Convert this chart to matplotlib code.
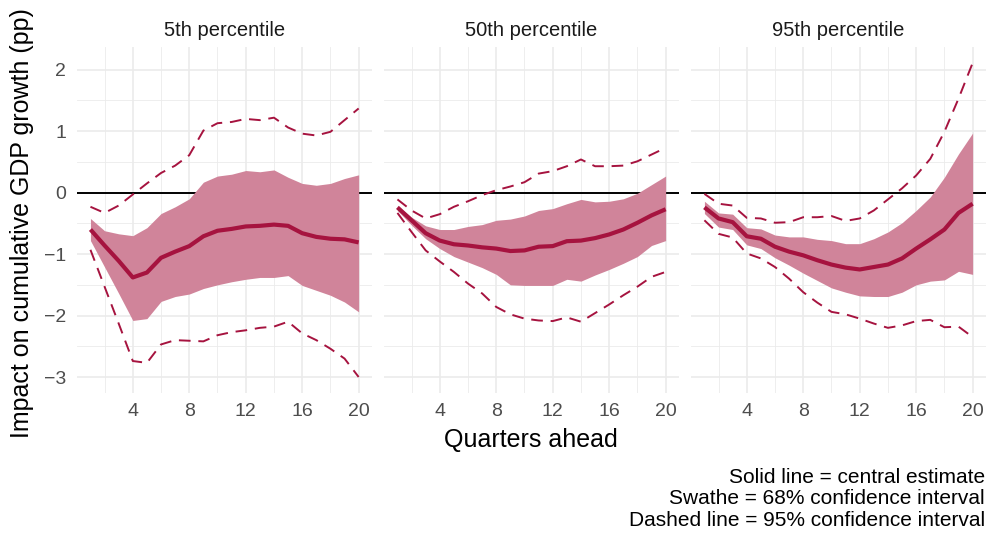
import matplotlib.pyplot as plt
import numpy as np

plt.rcParams['font.family'] = ['Liberation Sans', 'DejaVu Sans']

quarters = np.arange(1, 21)
panels = ["5th percentile", "50th percentile", "95th percentile"]

# central estimates
p5_mid = [-0.60, -0.86, -1.11, -1.38, -1.30, -1.06, -0.96, -0.87, -0.71, -0.62,
          -0.59, -0.55, -0.54, -0.52, -0.54, -0.66, -0.72, -0.75, -0.76, -0.81]
p50_mid = [-0.24, -0.45, -0.66, -0.78, -0.84, -0.86, -0.89, -0.91, -0.95, -0.94,
           -0.88, -0.87, -0.79, -0.78, -0.74, -0.68, -0.60, -0.49, -0.37, -0.27]
p95_mid = [-0.24, -0.42, -0.48, -0.71, -0.75, -0.88, -0.96, -1.02, -1.10, -1.17,
           -1.22, -1.25, -1.21, -1.17, -1.07, -0.91, -0.76, -0.60, -0.33, -0.18]

# 68% band
p5_lo68 = [-0.78, -1.21, -1.64, -2.08, -2.05, -1.77, -1.69, -1.65, -1.56, -1.50,
           -1.45, -1.41, -1.38, -1.38, -1.35, -1.51, -1.59, -1.67, -1.78, -1.94]
p5_hi68 = [-0.42, -0.62, -0.67, -0.70, -0.57, -0.34, -0.23, -0.10, 0.17, 0.27,
           0.30, 0.36, 0.34, 0.37, 0.25, 0.15, 0.12, 0.15, 0.23, 0.29]
p50_lo68 = [-0.29, -0.53, -0.75, -0.91, -1.04, -1.13, -1.22, -1.33, -1.50, -1.51,
            -1.51, -1.51, -1.41, -1.44, -1.34, -1.25, -1.15, -1.04, -0.86, -0.78]
p50_hi68 = [-0.21, -0.40, -0.54, -0.60, -0.60, -0.55, -0.52, -0.45, -0.43, -0.38,
            -0.29, -0.26, -0.18, -0.11, -0.15, -0.14, -0.10, -0.01, 0.13, 0.27]
p95_lo68 = [-0.34, -0.56, -0.60, -0.85, -0.91, -1.06, -1.18, -1.31, -1.43, -1.55,
            -1.62, -1.68, -1.69, -1.69, -1.62, -1.50, -1.44, -1.42, -1.28, -1.33]
p95_hi68 = [-0.14, -0.33, -0.35, -0.57, -0.59, -0.69, -0.72, -0.72, -0.76, -0.78,
            -0.83, -0.83, -0.75, -0.64, -0.49, -0.29, -0.07, 0.25, 0.63, 0.97]

# 95% bounds
p5_lo95 = [-0.93, -1.53, -2.13, -2.74, -2.77, -2.47, -2.40, -2.41, -2.42, -2.32,
           -2.27, -2.24, -2.20, -2.18, -2.10, -2.29, -2.40, -2.54, -2.70, -3.00]
p5_hi95 = [-0.23, -0.33, -0.21, -0.03, 0.15, 0.32, 0.44, 0.61, 1.01, 1.13,
           1.15, 1.20, 1.18, 1.22, 1.06, 0.96, 0.93, 0.99, 1.18, 1.37]
p50_lo95 = [-0.33, -0.64, -0.94, -1.12, -1.29, -1.48, -1.64, -1.86, -1.98, -2.05,
            -2.08, -2.09, -2.03, -2.10, -1.96, -1.82, -1.67, -1.53, -1.37, -1.29]
p50_hi95 = [-0.11, -0.29, -0.42, -0.35, -0.23, -0.14, -0.04, 0.04, 0.10, 0.17,
            0.31, 0.35, 0.43, 0.54, 0.43, 0.43, 0.44, 0.51, 0.62, 0.73]
p95_lo95 = [-0.45, -0.67, -0.73, -0.99, -1.07, -1.21, -1.40, -1.62, -1.79, -1.94,
            -1.98, -2.05, -2.13, -2.20, -2.16, -2.09, -2.07, -2.19, -2.18, -2.35]
p95_hi95 = [-0.02, -0.18, -0.21, -0.41, -0.42, -0.49, -0.48, -0.40, -0.40, -0.38,
            -0.46, -0.42, -0.29, -0.11, 0.07, 0.28, 0.55, 0.99, 1.53, 2.11]

series = [
    (p5_mid, p5_lo68, p5_hi68, p5_lo95, p5_hi95),
    (p50_mid, p50_lo68, p50_hi68, p50_lo95, p50_hi95),
    (p95_mid, p95_lo68, p95_hi68, p95_lo95, p95_hi95),
]

line_col = "#A6133F"
band_col = "#D0849A"
grid_col = "#EBEBEB"

fig = plt.figure(figsize=(9.89, 5.33), dpi=100)
lefts = [0.0779, 0.3883, 0.6987]
bottom, width, height = 0.2627, 0.2983, 0.6491

for i, (title, (mid, lo68, hi68, lo95, hi95)) in enumerate(zip(panels, series)):
    ax = fig.add_axes([lefts[i], bottom, width, height])
    ax.set_xlim(0.05, 20.95)
    ax.set_ylim(-3.26, 2.37)

    # grid
    ax.set_xticks([4, 8, 12, 16, 20])
    ax.set_xticks([2, 6, 10, 14, 18], minor=True)
    ax.set_yticks([-3, -2, -1, 0, 1, 2])
    ax.set_yticks([-2.5, -1.5, -0.5, 0.5, 1.5], minor=True)
    ax.grid(True, which='major', color=grid_col, linewidth=1.2, zorder=0)
    ax.grid(True, which='minor', color=grid_col, linewidth=0.6, zorder=0)
    for s in ax.spines.values():
        s.set_visible(False)
    ax.tick_params(which='both', length=0)
    ax.tick_params(axis='x', labelsize=14, labelcolor='#4D4D4D', pad=7)
    ax.tick_params(axis='y', labelsize=14, labelcolor='#4D4D4D', pad=8)
    ax.set_yticklabels(["\u22123", "\u22122", "\u22121", "0", "1", "2"])
    if i > 0:
        ax.set_yticklabels([])

    ax.axhline(0, color='black', linewidth=1.4, zorder=2)
    ax.fill_between(quarters, lo68, hi68, color=band_col, linewidth=0, zorder=3)
    ax.plot(quarters, mid, color=line_col, linewidth=3, zorder=4,
            solid_joinstyle='round', solid_capstyle='butt')
    for b in (lo95, hi95):
        ax.plot(quarters, b, color=line_col, linewidth=1.4, zorder=4,
                linestyle=(0, (6, 4)))
    ax.set_title(title, fontsize=14.5, color='#1A1A1A', pad=8)

fig.text(0.5371, 1 - 440 / 533, "Quarters ahead", ha='center', va='center',
         fontsize=18, color='black')
fig.text(0.022, 1 - 223 / 533, "Impact on cumulative GDP growth (pp)", ha='center',
         va='center', rotation=90, fontsize=18, color='black')
fig.text(985 / 989, 1 - 499 / 533,
         "Solid line = central estimate\nSwathe = 68% confidence interval\n"
         "Dashed line = 95% confidence interval",
         ha='right', va='center', multialignment='right', fontsize=15,
         linespacing=1.16, color='black')

fig.savefig("out.png", dpi=100)
